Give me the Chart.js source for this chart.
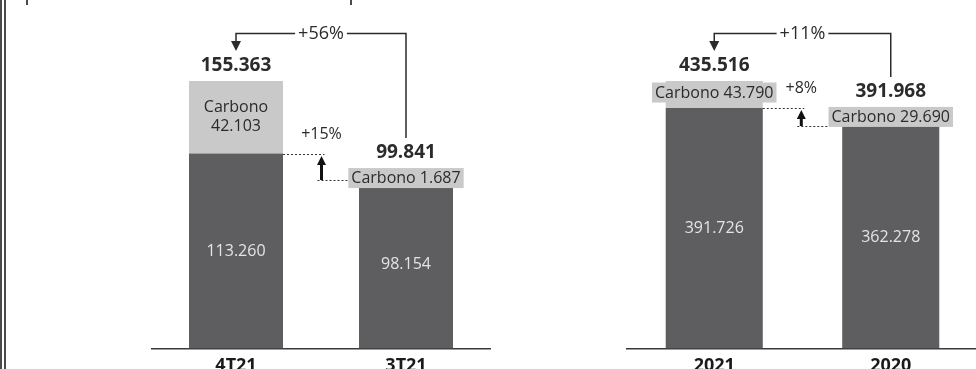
<!DOCTYPE html>
<html>
<head>
<meta charset="utf-8">
<script src="https://cdn.jsdelivr.net/npm/chart.js@4/dist/chart.umd.min.js"></script>
<style>
  html, body { margin: 0; padding: 0; background: #ffffff; overflow: hidden; }
  body { width: 976px; height: 369px; position: relative; }
  .rule { position: absolute; background: #4a4a4a; }
  canvas { position: absolute; top: 0; }
</style>
</head>
<body>
<!-- page frame: double rule on the left and two tick marks at the top -->
<div class="rule" style="left:0;top:0;width:2px;height:369px"></div>
<div class="rule" style="left:4px;top:0;width:2px;height:369px"></div>
<div class="rule" style="left:26px;top:0;width:2px;height:5px"></div>
<div class="rule" style="left:350px;top:0;width:2px;height:5px"></div>

<canvas id="quarters" style="left:151px" width="340" height="384"></canvas>
<canvas id="years" style="left:626px" width="353" height="384"></canvas>

<script>
// Quarterly comparison (values in units of the report, pt-BR thousands separator)
const quarterLabels = ['4T21', '3T21'];
const quarterBase = [113260, 98154];
const quarterCarbon = [42103, 1687];

// Annual comparison
const yearLabels = ['2021', '2020'];
const yearBase = [391726, 362278];
const yearCarbon = [43790, 29690];

const DARK = '#5e5e60';
const LIGHT = '#c9c9c9';
const INK = '#2b2b2b';
const FONT = '"Open Sans", "Noto Sans", sans-serif';

const fmt = v => String(v).replace(/\B(?=(\d{3})+(?!\d))/g, '.');
const pct = (a, b) => '+' + Math.round((a / b - 1) * 100) + '%';

function arrowHead(ctx, x, tipY, dir, w, h) {
  ctx.beginPath();
  ctx.moveTo(x, tipY);
  ctx.lineTo(x - w / 2, tipY - dir * h);
  ctx.lineTo(x + w / 2, tipY - dir * h);
  ctx.closePath();
  ctx.fill();
}

function dotted(ctx, x1, x2, y) {
  ctx.save();
  ctx.setLineDash([2, 2]);
  ctx.lineWidth = 1;
  ctx.strokeStyle = '#333';
  ctx.beginPath();
  ctx.moveTo(x1, y + 0.5);
  ctx.lineTo(x2, y + 0.5);
  ctx.stroke();
  ctx.restore();
}

// Draws value labels, carbon tags, totals and the growth arrows of a panel
const panelNotes = {
  id: 'panelNotes',
  afterDatasetsDraw(chart) {
    const ctx = chart.ctx;
    const baseBars = chart.getDatasetMeta(0).data;
    const carbBars = chart.getDatasetMeta(1).data;
    const baseVals = chart.data.datasets[0].data;
    const carbVals = chart.data.datasets[1].data;
    const totals = baseVals.map((v, i) => v + carbVals[i]);
    const topEdge = [];
    const boxLeft = [];

    ctx.save();
    ctx.textAlign = 'center';
    ctx.textBaseline = 'middle';

    baseBars.forEach((bar, i) => {
      // value of the non-carbon part, centred in the dark segment
      ctx.fillStyle = '#e4e4e4';
      ctx.font = '16px ' + FONT;
      ctx.fillText(fmt(baseVals[i]), bar.x, (bar.y + bar.base) / 2);

      const seg = carbBars[i];
      const segH = seg.base - seg.y;
      ctx.font = '16px ' + FONT;
      if (segH > 50) {
        ctx.fillStyle = INK;
        const cy = (seg.y + seg.base) / 2;
        ctx.fillText('Carbono', seg.x, cy - 9.5);
        ctx.fillText(fmt(carbVals[i]), seg.x, cy + 9.5);
        topEdge.push(seg.y);
        boxLeft.push(seg.x - seg.width / 2);
      } else {
        const txt = 'Carbono ' + fmt(carbVals[i]);
        const w = ctx.measureText(txt).width + 6;
        const cy = (seg.y + seg.base) / 2 - (segH > 20 ? 2 : 0);
        ctx.fillStyle = LIGHT;
        ctx.fillRect(seg.x - w / 2, cy - 10, w, 20);
        ctx.fillStyle = INK;
        ctx.fillText(txt, seg.x, cy + 0.5);
        topEdge.push(Math.min(seg.y, cy - 10));
        boxLeft.push(seg.x - w / 2);
      }
    });

    // totals above each bar
    const totalY = topEdge.map(t => t - 15);
    ctx.font = 'bold 19px ' + FONT;
    ctx.fillStyle = INK;
    baseBars.forEach((bar, i) => ctx.fillText(fmt(totals[i]), bar.x, totalY[i]));

    // bracket arrow for total growth
    const x1 = baseBars[0].x, x2 = baseBars[1].x;
    const by = Math.round(totalY[0] - 33.5) + 0.5;
    const label = pct(totals[0], totals[1]);
    ctx.font = '18px ' + FONT;
    const lw = ctx.measureText(label).width;
    const mid = (x1 + x2) / 2;
    ctx.strokeStyle = INK;
    ctx.lineWidth = 1.5;
    ctx.beginPath();
    ctx.moveTo(x1, totalY[0] - 25);
    ctx.lineTo(x1, by);
    ctx.lineTo(mid - lw / 2 - 3, by);
    ctx.moveTo(mid + lw / 2 + 3, by);
    ctx.lineTo(x2, by);
    ctx.lineTo(x2, totalY[1] - 15);
    ctx.stroke();
    ctx.fillStyle = INK;
    arrowHead(ctx, x1, totalY[0] - 15, 1, 10, 10);
    ctx.fillText(label, mid, by);

    // small arrow for growth of the non-carbon part
    const upperY = Math.round(baseBars[0].y);
    const lowerY = Math.round(baseBars[1].y);
    const ax = baseBars[0].x + baseBars[0].width / 2 + 38.5;
    dotted(ctx, baseBars[0].x + baseBars[0].width / 2, ax + 3, upperY);
    dotted(ctx, ax - 4, boxLeft[1], lowerY);
    ctx.fillStyle = '#111';
    ctx.fillRect(ax - 1.5, upperY + 9, 3, lowerY - upperY - 9);
    arrowHead(ctx, ax, upperY + 2, -1, 9, 9);
    ctx.fillStyle = INK;
    ctx.font = '16px ' + FONT;
    ctx.fillText(pct(baseVals[0], baseVals[1]), ax, upperY - 20);

    ctx.restore();
  }
};

function makePanel(id, labels, base, carbon, barPct) {
  const totals = base.map((v, i) => v + carbon[i]);
  // the tallest bar reaches 267 px above the baseline of a 348 px plot
  const yMax = Math.max(...totals) * 348 / 267;
  return new Chart(document.getElementById(id), {
    type: 'bar',
    data: {
      labels: labels,
      datasets: [
        { label: 'Base', data: base, backgroundColor: DARK, stack: 's',
          categoryPercentage: 1, barPercentage: barPct },
        { label: 'Carbono', data: carbon, backgroundColor: LIGHT, stack: 's',
          categoryPercentage: 1, barPercentage: barPct }
      ]
    },
    options: {
      responsive: false,
      animation: false,
      layout: { padding: 0 },
      plugins: { legend: { display: false }, tooltip: { enabled: false } },
      scales: {
        x: {
          stacked: true,
          grid: { display: false, drawTicks: false },
          border: { display: true, color: '#3a3a3a', width: 1.5 },
          ticks: { color: '#1a1a1a', padding: 7, font: { family: FONT, size: 18, weight: 'bold' } }
        },
        y: { stacked: true, display: false, min: 0, max: yMax }
      }
    },
    plugins: [panelNotes]
  });
}

makePanel('quarters', quarterLabels, quarterBase, quarterCarbon, 0.553);
makePanel('years', yearLabels, yearBase, yearCarbon, 0.55);
</script>
</body>
</html>
